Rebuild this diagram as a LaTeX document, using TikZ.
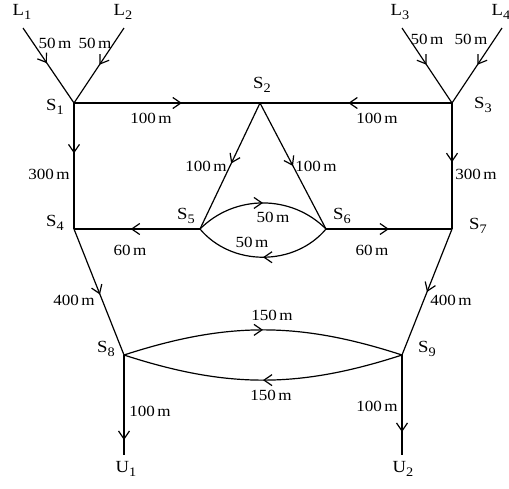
\documentclass[tikz,border=0pt]{standalone}
\usepackage{fontspec}
\setmainfont{Liberation Serif}[FakeStretch=1.1]
\usetikzlibrary{arrows.meta,decorations.markings}
\newcommand\nsub[1]{\raisebox{-3.5pt}{\fontsize{13}{13}\selectfont #1}}
\tikzset{
 edge/.style={line width=1.2pt},
 midarr/.style={postaction={decorate},decoration={markings,mark=at position #1 with {\arrow{Straight Barb[length=8pt,width=11pt]}}}},
 nlab/.style={inner sep=0pt,font=\fontsize{17}{17}\selectfont},
 elab/.style={inner sep=0pt,font=\fontsize{15.5}{15.5}\selectfont},
}
\begin{document}
\begin{tikzpicture}[x=1pt,y=-1pt]
\path[use as bounding box] (0,0) rectangle (509,488);
% junctions
\coordinate (l1) at (23,28);
\coordinate (l2) at (124,28);
\coordinate (l3) at (402,28);
\coordinate (l4) at (502,28);
\coordinate (s1) at (74,103);
\coordinate (s2) at (260,103);
\coordinate (s3) at (452,103);
\coordinate (s4) at (74,229);
\coordinate (s5) at (200,229);
\coordinate (s6) at (326,229);
\coordinate (s7) at (452,229);
\coordinate (s8) at (124,355);
\coordinate (s9) at (402,355);
\coordinate (u1) at (124,455);
\coordinate (u2) at (402,455);
% node labels
\node[nlab] (tl1) at (22,12) {L\nsub{1}};
\node[nlab] (tl2) at (123,12) {L\nsub{2}};
\node[nlab] (tl3) at (400,12) {L\nsub{3}};
\node[nlab] (tl4) at (501,12) {L\nsub{4}};
\node[nlab] (ts1) at (55,107) {S\nsub{1}};
\node[nlab] (ts2) at (262,85) {S\nsub{2}};
\node[nlab] (ts3) at (483,105) {S\nsub{3}};
\node[nlab] (ts4) at (55,223) {S\nsub{4}};
\node[nlab] (ts5) at (186,216) {S\nsub{5}};
\node[nlab] (ts6) at (342,216) {S\nsub{6}};
\node[nlab] (ts7) at (478,226) {S\nsub{7}};
\node[nlab] (ts8) at (106,349) {S\nsub{8}};
\node[nlab] (ts9) at (427,349) {S\nsub{9}};
\node[nlab] (tu1) at (126,469) {U\nsub{1}};
\node[nlab] (tu2) at (403,469) {U\nsub{2}};
% edges
\draw[edge,midarr=0.47] (l1) -- (s1);
\draw[edge,midarr=0.49] (l2) -- (s1);
\draw[edge,midarr=0.49] (l3) -- (s3);
\draw[edge,midarr=0.49] (l4) -- (s3);
\draw[edge,midarr=0.58] (s1) -- (s2);
\draw[edge,midarr=0.54] (s3) -- (s2);
\draw[edge,midarr=0.40] (s1) -- (s4);
\draw[edge,midarr=0.47] (s3) -- (s7);
\draw[edge,midarr=0.48] (s2) -- (s5);
\draw[edge,midarr=0.50] (s2) -- (s6);
\draw[edge,midarr=0.55] (s5) -- (s4);
\draw[edge,midarr=0.50] (s6) -- (s7);
\draw[edge,midarr=0.52] (s4) -- (s8);
\draw[edge,midarr=0.50] (s7) -- (s9);
\draw[edge,midarr=0.85] (s8) -- (u1);
\draw[edge,midarr=0.77] (s9) -- (u2);
\draw[edge,midarr=0.5] (s5) to[bend left=45] (s6);
\draw[edge,midarr=0.5] (s6) to[bend left=50] (s5);
\draw[edge,midarr=0.5] (s8) to[bend left=18] (s9);
\draw[edge,midarr=0.5] (s9) to[bend left=18] (s8);
% edge labels
\node[elab] (e1) at (55,43) {50\,m};
\node[elab] (e2) at (95,43) {50\,m};
\node[elab] (e3) at (427,39) {50\,m};
\node[elab] (e4) at (471,39) {50\,m};
\node[elab] (e5) at (151,118) {100\,m};
\node[elab] (e6) at (377,118) {100\,m};
\node[elab] (e7) at (49,174) {300\,m};
\node[elab] (e8) at (476,174) {300\,m};
\node[elab] (e9) at (206,166) {100\,m};
\node[elab] (e10) at (316,166) {100\,m};
\node[elab] (e11) at (130,250) {60\,m};
\node[elab] (e12) at (372,250) {60\,m};
\node[elab] (e13) at (273,217) {50\,m};
\node[elab] (e14) at (252,242) {50\,m};
\node[elab] (e15) at (74,300) {400\,m};
\node[elab] (e16) at (451,300) {400\,m};
\node[elab] (e17) at (272,315) {150\,m};
\node[elab] (e18) at (271,395) {150\,m};
\node[elab] (e19) at (150,411) {100\,m};
\node[elab] (e20) at (377,406) {100\,m};
\end{tikzpicture}
\end{document}
